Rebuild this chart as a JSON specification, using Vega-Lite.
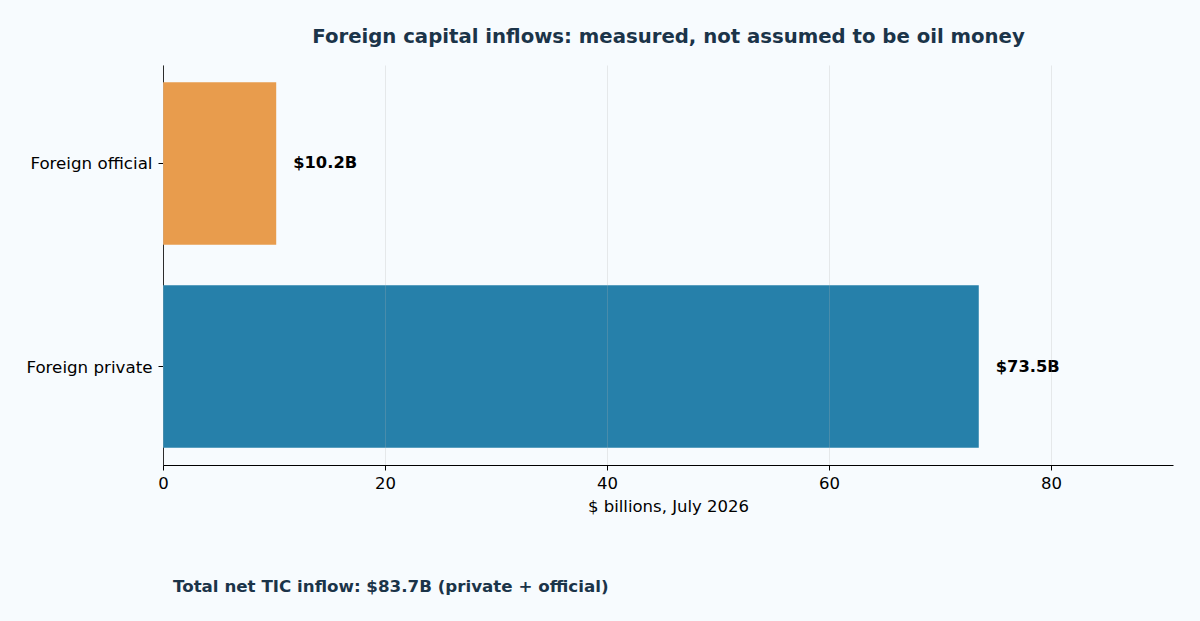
{
  "$schema": "https://vega.github.io/schema/vega-lite/v6.json",
  "autosize": "none",
  "width": 1010,
  "height": 400,
  "padding": {"left": 163, "top": 65, "right": 27, "bottom": 156},
  "background": "#F7FBFE",
  "config": {
    "font": "DejaVu Sans",
    "view": {"stroke": null},
    "axis": {"labelFont": "DejaVu Sans", "titleFont": "DejaVu Sans"}
  },
  "title": {
    "text": "Total net TIC inflow: $83.7B (private + official)",
    "orient": "bottom",
    "anchor": "start",
    "frame": "group",
    "dx": 10,
    "offset": 64,
    "fontSize": 16.7,
    "fontWeight": "bold",
    "color": "#1B3449",
    "font": "DejaVu Sans"
  },
  "data": {
    "values": [
      {"category": "Foreign official", "value": 10.2, "label": "$10.2B"},
      {"category": "Foreign private", "value": 73.5, "label": "$73.5B"}
    ]
  },
  "encoding": {
    "y": {
      "field": "category",
      "type": "nominal",
      "sort": null,
      "scale": {"paddingInner": 0.2, "paddingOuter": 0.085},
      "axis": {
        "title": null,
        "labelFontSize": 16.7,
        "labelColor": "#000000",
        "labelPadding": 6,
        "labelBaseline": "middle",
        "labelOffset": 1,
        "tickColor": "#000000",
        "tickSize": 5,
        "domainColor": "#000000",
        "domainWidth": 1
      }
    }
  },
  "layer": [
    {
      "mark": {"type": "bar"},
      "encoding": {
        "x": {
          "field": "value",
          "type": "quantitative",
          "scale": {"domain": [0, 91], "nice": false, "zero": true},
          "axis": {
            "title": "$ billions, July 2026",
            "titleFontSize": 16.5,
            "titleFontWeight": "normal",
            "titleColor": "#000000",
            "titlePadding": 7,
            "values": [0, 20, 40, 60, 80],
            "labelFlush": false,
            "labelFontSize": 16.5,
            "labelColor": "#000000",
            "labelPadding": 5,
            "tickColor": "#000000",
            "tickSize": 5,
            "domainColor": "#000000",
            "grid": true,
            "gridColor": "#B0B0B0",
            "gridOpacity": 0.25,
            "zindex": 1
          }
        },
        "color": {
          "field": "category",
          "type": "nominal",
          "scale": {"domain": ["Foreign official", "Foreign private"], "range": ["#E89C4D", "#2680AA"]},
          "legend": null
        }
      }
    },
    {
      "mark": {"type": "text", "align": "left", "baseline": "middle", "dx": 17, "fontSize": 16.3, "fontWeight": "bold", "color": "#000000"},
      "encoding": {
        "x": {
          "field": "value",
          "type": "quantitative",
          "axis": {
            "orient": "top",
            "title": "Foreign capital inflows: measured, not assumed to be oil money",
            "titleFontSize": 19.7,
            "titleFontWeight": "bold",
            "titleColor": "#1B3449",
            "titleAnchor": "middle",
            "titleAlign": "center",
            "titleBaseline": "alphabetic",
            "titleX": 505,
            "titleY": -23,
            "labels": false,
            "ticks": false,
            "domain": false,
            "grid": false
          }
        },
        "text": {"field": "label"}
      }
    }
  ],
  "resolve": {"axis": {"x": "independent"}}
}
